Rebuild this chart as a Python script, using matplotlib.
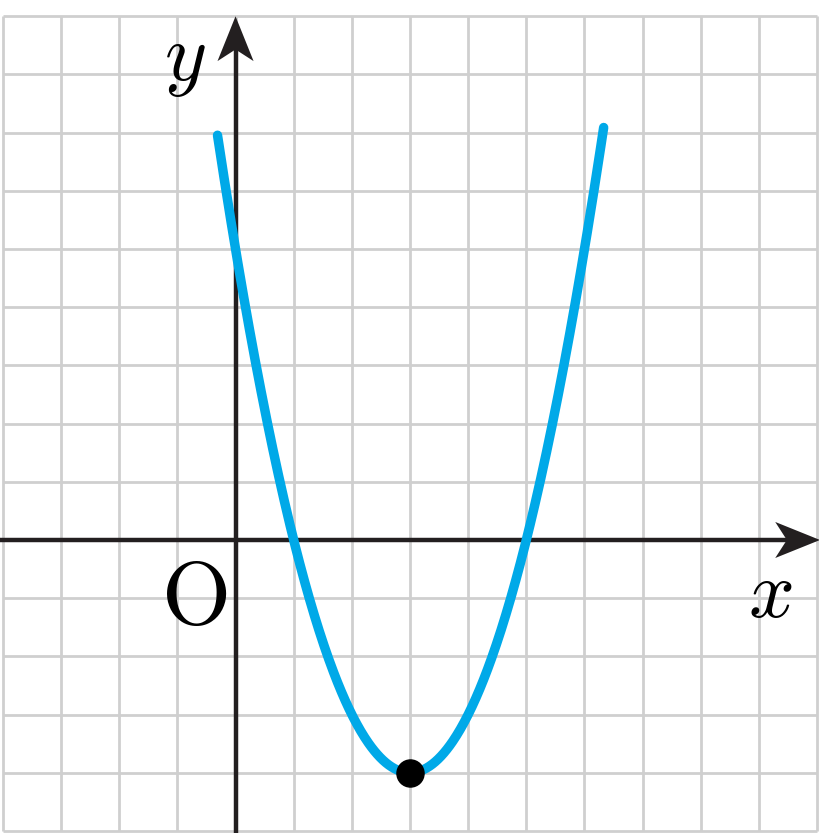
import matplotlib
matplotlib.use("Agg")
import matplotlib.pyplot as plt
import numpy as np
from matplotlib.patches import Polygon

# parabola y = a (x - h)^2 + k
a = 1.0
h = 3.0
k = -4.0
x_start = -0.31
x_end = 6.33

grid_x = np.arange(-4, 11, 1)
grid_y = np.arange(-5, 10, 1)

xlim = (-4.05, 10.05)
ylim = (-5.07, 9.28)

blue = "#00a9e8"
dark = "#231f20"
grey = "#cfcfcf"

plt.rcParams['mathtext.fontset'] = 'cm'

fig = plt.figure(figsize=(8.2, 8.35), dpi=100, facecolor="white")
ax = fig.add_axes([0, 0, 1, 1])
ax.set_xlim(*xlim)
ax.set_ylim(*ylim)
ax.axis("off")

# grid
for gx in grid_x:
    ax.plot([gx, gx], [grid_y[0], grid_y[-1]], color=grey, lw=2.0, zorder=1,
            solid_capstyle="butt")
for gy in grid_y:
    ax.plot([grid_x[0], grid_x[-1]], [gy, gy], color=grey, lw=2.0, zorder=1,
            solid_capstyle="butt")

# axes lines
ax.plot([xlim[0], xlim[1] - 0.3], [0, 0], color=dark, lw=3.2, zorder=3,
        solid_capstyle="butt")
ax.plot([0, 0], [-5.04, 9.0 - 0.3], color=dark, lw=3.2, zorder=3,
        solid_capstyle="butt")

# notched arrow heads
L, W, N = 0.77, 0.31, 0.2
tip_x = xlim[1]
ax.add_patch(Polygon([[tip_x, 0], [tip_x - L, W], [tip_x - L + N, 0], [tip_x - L, -W]],
                     closed=True, color=dark, zorder=4, lw=0))
tip_y = 9.0
ax.add_patch(Polygon([[0, tip_y], [W, tip_y - L], [0, tip_y - L + N], [-W, tip_y - L]],
                     closed=True, color=dark, zorder=4, lw=0))

# curve
xs = np.linspace(x_start, x_end, 400)
ys = a * (xs - h) ** 2 + k
ax.plot(xs, ys, color=blue, lw=6.8, solid_capstyle="round", zorder=5)
ax.plot([h], [k], marker="o", markersize=19.5, color="black", zorder=6)

# labels
ax.text(-0.88, 8.25, r"$y$", fontsize=58, ha="center", va="center", color="black")
ax.text(9.2, -0.95, r"$x$", fontsize=58, ha="center", va="center", color="black")
ax.text(-0.72, -1.03, r"$\mathrm{O}$", fontsize=64, ha="center", va="center", color="black")

fig.savefig("out.png", dpi=100, facecolor="white")
